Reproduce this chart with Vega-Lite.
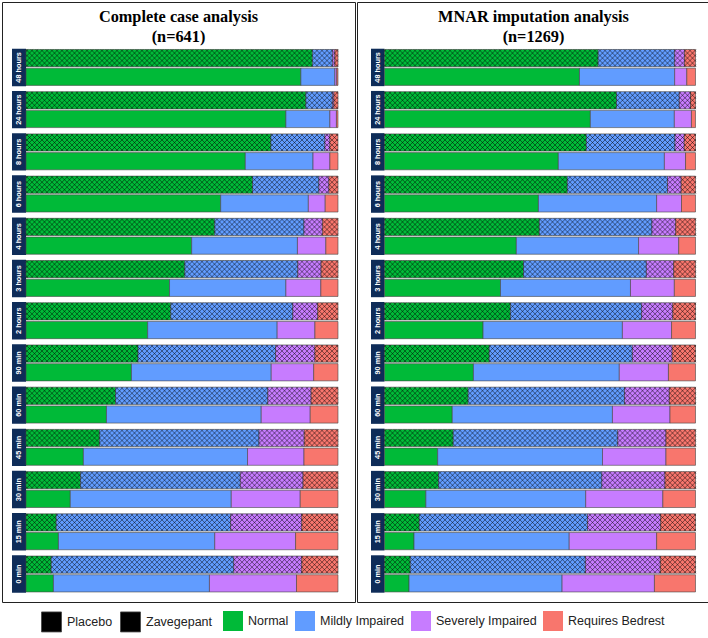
{
  "$schema": "https://vega.github.io/schema/vega-lite/v6.json",
  "padding": {"left": 1, "top": 1, "right": 1, "bottom": 1},
  "config": {
    "view": {"stroke": "#222", "strokeWidth": 1},
    "font": "Liberation Sans"
  },
  "datasets": {
    "cc": [
      {"t": "48 hours", "arm": "Zavegepant", "Normal": 91.8, "Mildly Impaired": 6.4, "Severely Impaired": 0.8, "Requires Bedrest": 1.0},
      {"t": "48 hours", "arm": "Placebo", "Normal": 88.1, "Mildly Impaired": 10.9, "Severely Impaired": 0.6, "Requires Bedrest": 0.4},
      {"t": "24 hours", "arm": "Zavegepant", "Normal": 89.7, "Mildly Impaired": 8.5, "Severely Impaired": 0.5, "Requires Bedrest": 1.3},
      {"t": "24 hours", "arm": "Placebo", "Normal": 83.3, "Mildly Impaired": 14.1, "Severely Impaired": 2.1, "Requires Bedrest": 0.5},
      {"t": "8 hours", "arm": "Zavegepant", "Normal": 78.5, "Mildly Impaired": 17.3, "Severely Impaired": 1.6, "Requires Bedrest": 2.6},
      {"t": "8 hours", "arm": "Placebo", "Normal": 70.3, "Mildly Impaired": 21.7, "Severely Impaired": 5.4, "Requires Bedrest": 2.6},
      {"t": "6 hours", "arm": "Zavegepant", "Normal": 72.6, "Mildly Impaired": 21.3, "Severely Impaired": 3.2, "Requires Bedrest": 2.9},
      {"t": "6 hours", "arm": "Placebo", "Normal": 62.4, "Mildly Impaired": 28.1, "Severely Impaired": 5.4, "Requires Bedrest": 4.1},
      {"t": "4 hours", "arm": "Zavegepant", "Normal": 60.5, "Mildly Impaired": 28.6, "Severely Impaired": 5.9, "Requires Bedrest": 5.0},
      {"t": "4 hours", "arm": "Placebo", "Normal": 53.1, "Mildly Impaired": 33.9, "Severely Impaired": 9.1, "Requires Bedrest": 3.9},
      {"t": "3 hours", "arm": "Zavegepant", "Normal": 50.9, "Mildly Impaired": 36.2, "Severely Impaired": 7.5, "Requires Bedrest": 5.4},
      {"t": "3 hours", "arm": "Placebo", "Normal": 46.0, "Mildly Impaired": 37.3, "Severely Impaired": 11.2, "Requires Bedrest": 5.5},
      {"t": "2 hours", "arm": "Zavegepant", "Normal": 46.4, "Mildly Impaired": 39.1, "Severely Impaired": 8.0, "Requires Bedrest": 6.5},
      {"t": "2 hours", "arm": "Placebo", "Normal": 39.0, "Mildly Impaired": 41.5, "Severely Impaired": 12.1, "Requires Bedrest": 7.4},
      {"t": "90 min", "arm": "Zavegepant", "Normal": 35.9, "Mildly Impaired": 44.1, "Severely Impaired": 12.6, "Requires Bedrest": 7.4},
      {"t": "90 min", "arm": "Placebo", "Normal": 33.8, "Mildly Impaired": 44.8, "Severely Impaired": 13.6, "Requires Bedrest": 7.8},
      {"t": "60 min", "arm": "Zavegepant", "Normal": 28.7, "Mildly Impaired": 48.8, "Severely Impaired": 13.9, "Requires Bedrest": 8.6},
      {"t": "60 min", "arm": "Placebo", "Normal": 25.8, "Mildly Impaired": 49.6, "Severely Impaired": 15.7, "Requires Bedrest": 8.9},
      {"t": "45 min", "arm": "Zavegepant", "Normal": 23.6, "Mildly Impaired": 51.1, "Severely Impaired": 14.5, "Requires Bedrest": 10.8},
      {"t": "45 min", "arm": "Placebo", "Normal": 18.4, "Mildly Impaired": 52.6, "Severely Impaired": 18.1, "Requires Bedrest": 10.9},
      {"t": "30 min", "arm": "Zavegepant", "Normal": 17.5, "Mildly Impaired": 51.2, "Severely Impaired": 20.1, "Requires Bedrest": 11.2},
      {"t": "30 min", "arm": "Placebo", "Normal": 14.2, "Mildly Impaired": 51.6, "Severely Impaired": 22.1, "Requires Bedrest": 12.1},
      {"t": "15 min", "arm": "Zavegepant", "Normal": 9.7, "Mildly Impaired": 55.9, "Severely Impaired": 22.8, "Requires Bedrest": 11.6},
      {"t": "15 min", "arm": "Placebo", "Normal": 10.4, "Mildly Impaired": 50.1, "Severely Impaired": 25.9, "Requires Bedrest": 13.6},
      {"t": "0 min", "arm": "Zavegepant", "Normal": 8.1, "Mildly Impaired": 58.5, "Severely Impaired": 21.8, "Requires Bedrest": 11.6},
      {"t": "0 min", "arm": "Placebo", "Normal": 8.8, "Mildly Impaired": 50.0, "Severely Impaired": 27.9, "Requires Bedrest": 13.3}
    ],
    "mnar": [
      {"t": "48 hours", "arm": "Zavegepant", "Normal": 68.7, "Mildly Impaired": 24.6, "Severely Impaired": 3.2, "Requires Bedrest": 3.5},
      {"t": "48 hours", "arm": "Placebo", "Normal": 62.7, "Mildly Impaired": 30.6, "Severely Impaired": 3.9, "Requires Bedrest": 2.8},
      {"t": "24 hours", "arm": "Zavegepant", "Normal": 74.6, "Mildly Impaired": 20.2, "Severely Impaired": 3.6, "Requires Bedrest": 1.6},
      {"t": "24 hours", "arm": "Placebo", "Normal": 66.2, "Mildly Impaired": 27.0, "Severely Impaired": 5.5, "Requires Bedrest": 1.3},
      {"t": "8 hours", "arm": "Zavegepant", "Normal": 64.9, "Mildly Impaired": 28.5, "Severely Impaired": 3.0, "Requires Bedrest": 3.6},
      {"t": "8 hours", "arm": "Placebo", "Normal": 55.9, "Mildly Impaired": 34.1, "Severely Impaired": 6.8, "Requires Bedrest": 3.2},
      {"t": "6 hours", "arm": "Zavegepant", "Normal": 58.8, "Mildly Impaired": 32.2, "Severely Impaired": 4.4, "Requires Bedrest": 4.6},
      {"t": "6 hours", "arm": "Placebo", "Normal": 49.5, "Mildly Impaired": 38.0, "Severely Impaired": 8.0, "Requires Bedrest": 4.5},
      {"t": "4 hours", "arm": "Zavegepant", "Normal": 49.8, "Mildly Impaired": 36.2, "Severely Impaired": 7.6, "Requires Bedrest": 6.4},
      {"t": "4 hours", "arm": "Placebo", "Normal": 42.4, "Mildly Impaired": 39.3, "Severely Impaired": 12.9, "Requires Bedrest": 5.4},
      {"t": "3 hours", "arm": "Zavegepant", "Normal": 44.7, "Mildly Impaired": 39.5, "Severely Impaired": 8.8, "Requires Bedrest": 7.0},
      {"t": "3 hours", "arm": "Placebo", "Normal": 37.3, "Mildly Impaired": 41.8, "Severely Impaired": 14.1, "Requires Bedrest": 6.8},
      {"t": "2 hours", "arm": "Zavegepant", "Normal": 40.5, "Mildly Impaired": 42.2, "Severely Impaired": 10.0, "Requires Bedrest": 7.3},
      {"t": "2 hours", "arm": "Placebo", "Normal": 31.7, "Mildly Impaired": 44.8, "Severely Impaired": 15.8, "Requires Bedrest": 7.7},
      {"t": "90 min", "arm": "Zavegepant", "Normal": 33.7, "Mildly Impaired": 46.0, "Severely Impaired": 12.8, "Requires Bedrest": 7.5},
      {"t": "90 min", "arm": "Placebo", "Normal": 28.6, "Mildly Impaired": 46.9, "Severely Impaired": 15.8, "Requires Bedrest": 8.7},
      {"t": "60 min", "arm": "Zavegepant", "Normal": 26.9, "Mildly Impaired": 50.3, "Severely Impaired": 14.4, "Requires Bedrest": 8.4},
      {"t": "60 min", "arm": "Placebo", "Normal": 21.8, "Mildly Impaired": 51.5, "Severely Impaired": 18.5, "Requires Bedrest": 8.2},
      {"t": "45 min", "arm": "Zavegepant", "Normal": 22.1, "Mildly Impaired": 52.9, "Severely Impaired": 15.5, "Requires Bedrest": 9.5},
      {"t": "45 min", "arm": "Placebo", "Normal": 17.1, "Mildly Impaired": 53.0, "Severely Impaired": 20.4, "Requires Bedrest": 9.5},
      {"t": "30 min", "arm": "Zavegepant", "Normal": 17.4, "Mildly Impaired": 52.5, "Severely Impaired": 20.3, "Requires Bedrest": 9.8},
      {"t": "30 min", "arm": "Placebo", "Normal": 13.3, "Mildly Impaired": 51.4, "Severely Impaired": 24.8, "Requires Bedrest": 10.5},
      {"t": "15 min", "arm": "Zavegepant", "Normal": 11.2, "Mildly Impaired": 54.1, "Severely Impaired": 23.5, "Requires Bedrest": 11.2},
      {"t": "15 min", "arm": "Placebo", "Normal": 9.5, "Mildly Impaired": 49.9, "Severely Impaired": 28.1, "Requires Bedrest": 12.5},
      {"t": "0 min", "arm": "Zavegepant", "Normal": 8.3, "Mildly Impaired": 56.3, "Severely Impaired": 24.1, "Requires Bedrest": 11.3},
      {"t": "0 min", "arm": "Placebo", "Normal": 7.9, "Mildly Impaired": 49.2, "Severely Impaired": 29.7, "Requires Bedrest": 13.2}
    ]
  },
  "spacing": 0,
  "hconcat": [
    {
      "width": 353,
      "height": 600,
      "data": {"name": "cc"},
      "title": {"text": ["Complete case analysis", "(n=641)"], "font": "Liberation Serif", "fontSize": 16.3, "fontWeight": "bold", "lineHeight": 19.5, "color": "#000", "offset": -43},
      "encoding": {
        "y": {"field": "t", "type": "ordinal", "axis": null, "scale": {"domain": ["48 hours", "24 hours", "8 hours", "6 hours", "4 hours", "3 hours", "2 hours", "90 min", "60 min", "45 min", "30 min", "15 min", "0 min"], "paddingInner": 0.1137, "paddingOuter": 0.6635, "align": 0.834}}
      },
      "layer": [
        {
          "transform": [{"filter": {"field": "arm", "equal": "Zavegepant"}}],
          "mark": {"type": "rect", "color": "#0e2c58"},
          "encoding": {
            "x": {"datum": -0.04487, "type": "quantitative", "axis": null, "scale": {"domain": [-0.07692, 1.05449], "nice": false, "zero": false}},
            "x2": {"datum": 0}
          }
        },
        {
          "transform": [{"filter": {"field": "arm", "equal": "Zavegepant"}}],
          "mark": {"type": "text", "angle": 270, "color": "white", "fontWeight": "bold", "fontSize": 7.3, "font": "Liberation Sans", "align": "center", "baseline": "middle"},
          "encoding": {
            "x": {"datum": -0.0224, "type": "quantitative", "axis": null},
            "text": {"field": "t"}
          }
        },
        {
          "transform": [
            {"filter": {"field": "arm", "equal": "Zavegepant"}},
            {"fold": ["Normal", "Mildly Impaired", "Severely Impaired", "Requires Bedrest"], "as": ["category", "pct"]},
            {"calculate": "indexof(['Normal','Mildly Impaired','Severely Impaired','Requires Bedrest'], datum.category)", "as": "k"}
          ],
          "mark": {"type": "bar", "height": {"band": 0.46}, "yOffset": -9.35, "strokeWidth": 0.8, "strokeOpacity": 0.75},
          "encoding": {
            "x": {"field": "pct", "type": "quantitative", "stack": "normalize", "axis": null, "scale": {"domain": [-0.07692, 1.05449], "nice": false, "zero": false}},
            "order": {"field": "k", "type": "quantitative"},
            "color": {
              "field": "category", "type": "nominal",
              "scale": {"domain": ["Normal", "Mildly Impaired", "Severely Impaired", "Requires Bedrest"], "range": ["#00BA38", "#619CFF", "#C77CFF", "#F8766D"]},
              "legend": {"title": null, "orient": "none", "legendX": 221, "legendY": 609, "direction": "horizontal", "symbolType": "square", "symbolSize": 400, "symbolStrokeWidth": 0, "labelFontSize": 12.5, "labelFont": "Liberation Sans", "labelColor": "#222", "columnPadding": 6, "labelOffset": 5, "labelLimit": 300}
            },
            "stroke": {
              "field": "arm", "type": "nominal",
              "scale": {"domain": ["Placebo", "Zavegepant"], "range": ["#444", "#444"]},
              "legend": {"title": null, "orient": "none", "legendX": 39, "legendY": 609, "direction": "horizontal", "symbolType": "square", "symbolSize": 400, "labelFontSize": 12.5, "labelFont": "Liberation Sans", "labelColor": "#222", "columnPadding": 5, "labelOffset": 5, "labelLimit": 300, "symbolFillColor": "white", "symbolStrokeColor": "#777", "symbolStrokeWidth": 0.8}
            }
          }
        },
        {
          "transform": [
            {"filter": {"field": "arm", "equal": "Placebo"}},
            {"fold": ["Normal", "Mildly Impaired", "Severely Impaired", "Requires Bedrest"], "as": ["category", "pct"]},
            {"calculate": "indexof(['Normal','Mildly Impaired','Severely Impaired','Requires Bedrest'], datum.category)", "as": "k"}
          ],
          "mark": {"type": "bar", "height": {"band": 0.46}, "yOffset": 9.35, "strokeWidth": 0.8, "strokeOpacity": 0.75},
          "encoding": {
            "x": {"field": "pct", "type": "quantitative", "stack": "normalize", "axis": null, "scale": {"domain": [-0.07692, 1.05449], "nice": false, "zero": false}},
            "order": {"field": "k", "type": "quantitative"},
            "color": {"field": "category", "type": "nominal"},
            "stroke": {"field": "arm", "type": "nominal"}
          }
        },
        {
          "transform": [{"filter": {"field": "arm", "equal": "Zavegepant"}}],
          "mark": {"type": "point", "size": 4, "yOffset": -9.35, "filled": false, "stroke": "#000", "strokeWidth": 0.8, "strokeOpacity": 0.6, "opacity": 1,
            "shape": "M-156,-6.5L-153.9,-8.6M-156,-1.5L-148.9,-8.6M-156,3.5L-143.9,-8.6M-156.1,8.6l17.2,-17.2M-151.1,8.6l17.2,-17.2M-146.1,8.6l17.2,-17.2M-141.1,8.6l17.2,-17.2M-136.1,8.6l17.2,-17.2M-131.1,8.6l17.2,-17.2M-126.1,8.6l17.2,-17.2M-121.1,8.6l17.2,-17.2M-116.1,8.6l17.2,-17.2M-111.1,8.6l17.2,-17.2M-106.1,8.6l17.2,-17.2M-101.1,8.6l17.2,-17.2M-96.1,8.6l17.2,-17.2M-91.1,8.6l17.2,-17.2M-86.1,8.6l17.2,-17.2M-81.1,8.6l17.2,-17.2M-76.1,8.6l17.2,-17.2M-71.1,8.6l17.2,-17.2M-66.1,8.6l17.2,-17.2M-61.1,8.6l17.2,-17.2M-56.1,8.6l17.2,-17.2M-51.1,8.6l17.2,-17.2M-46.1,8.6l17.2,-17.2M-41.1,8.6l17.2,-17.2M-36.1,8.6l17.2,-17.2M-31.1,8.6l17.2,-17.2M-26.1,8.6l17.2,-17.2M-21.1,8.6l17.2,-17.2M-16.1,8.6l17.2,-17.2M-11.1,8.6l17.2,-17.2M-6.1,8.6l17.2,-17.2M-1.1,8.6l17.2,-17.2M3.9,8.6l17.2,-17.2M8.9,8.6l17.2,-17.2M13.9,8.6l17.2,-17.2M18.9,8.6l17.2,-17.2M23.9,8.6l17.2,-17.2M28.9,8.6l17.2,-17.2M33.9,8.6l17.2,-17.2M38.9,8.6l17.2,-17.2M43.9,8.6l17.2,-17.2M48.9,8.6l17.2,-17.2M53.9,8.6l17.2,-17.2M58.9,8.6l17.2,-17.2M63.9,8.6l17.2,-17.2M68.9,8.6l17.2,-17.2M73.9,8.6l17.2,-17.2M78.9,8.6l17.2,-17.2M83.9,8.6l17.2,-17.2M88.9,8.6l17.2,-17.2M93.9,8.6l17.2,-17.2M98.9,8.6l17.2,-17.2M103.9,8.6l17.2,-17.2M108.9,8.6l17.2,-17.2M113.9,8.6l17.2,-17.2M118.9,8.6l17.2,-17.2M123.9,8.6l17.2,-17.2M128.9,8.6l17.2,-17.2M133.9,8.6l17.2,-17.2M138.9,8.6l17.2,-17.2M143.9,8.6L156,-3.5M148.9,8.6L156,1.5M153.9,8.6L156,6.5M-156,6.5L-153.9,8.6M-156,1.5L-148.9,8.6M-156,-3.5L-143.9,8.6M-156.1,-8.6l17.2,17.2M-151.1,-8.6l17.2,17.2M-146.1,-8.6l17.2,17.2M-141.1,-8.6l17.2,17.2M-136.1,-8.6l17.2,17.2M-131.1,-8.6l17.2,17.2M-126.1,-8.6l17.2,17.2M-121.1,-8.6l17.2,17.2M-116.1,-8.6l17.2,17.2M-111.1,-8.6l17.2,17.2M-106.1,-8.6l17.2,17.2M-101.1,-8.6l17.2,17.2M-96.1,-8.6l17.2,17.2M-91.1,-8.6l17.2,17.2M-86.1,-8.6l17.2,17.2M-81.1,-8.6l17.2,17.2M-76.1,-8.6l17.2,17.2M-71.1,-8.6l17.2,17.2M-66.1,-8.6l17.2,17.2M-61.1,-8.6l17.2,17.2M-56.1,-8.6l17.2,17.2M-51.1,-8.6l17.2,17.2M-46.1,-8.6l17.2,17.2M-41.1,-8.6l17.2,17.2M-36.1,-8.6l17.2,17.2M-31.1,-8.6l17.2,17.2M-26.1,-8.6l17.2,17.2M-21.1,-8.6l17.2,17.2M-16.1,-8.6l17.2,17.2M-11.1,-8.6l17.2,17.2M-6.1,-8.6l17.2,17.2M-1.1,-8.6l17.2,17.2M3.9,-8.6l17.2,17.2M8.9,-8.6l17.2,17.2M13.9,-8.6l17.2,17.2M18.9,-8.6l17.2,17.2M23.9,-8.6l17.2,17.2M28.9,-8.6l17.2,17.2M33.9,-8.6l17.2,17.2M38.9,-8.6l17.2,17.2M43.9,-8.6l17.2,17.2M48.9,-8.6l17.2,17.2M53.9,-8.6l17.2,17.2M58.9,-8.6l17.2,17.2M63.9,-8.6l17.2,17.2M68.9,-8.6l17.2,17.2M73.9,-8.6l17.2,17.2M78.9,-8.6l17.2,17.2M83.9,-8.6l17.2,17.2M88.9,-8.6l17.2,17.2M93.9,-8.6l17.2,17.2M98.9,-8.6l17.2,17.2M103.9,-8.6l17.2,17.2M108.9,-8.6l17.2,17.2M113.9,-8.6l17.2,17.2M118.9,-8.6l17.2,17.2M123.9,-8.6l17.2,17.2M128.9,-8.6l17.2,17.2M133.9,-8.6l17.2,17.2M138.9,-8.6l17.2,17.2M143.9,-8.6L156,3.5M148.9,-8.6L156,-1.5M153.9,-8.6L156,-6.5"},
          "encoding": {
            "x": {"datum": 0.5, "type": "quantitative", "axis": null}
          }
        }
      ]
    },
    {
      "width": 353,
      "height": 600,
      "data": {"name": "mnar"},
      "title": {"text": ["MNAR imputation analysis", "(n=1269)"], "font": "Liberation Serif", "fontSize": 16.3, "fontWeight": "bold", "lineHeight": 19.5, "color": "#000", "offset": -43},
      "encoding": {
        "y": {"field": "t", "type": "ordinal", "axis": null, "scale": {"domain": ["48 hours", "24 hours", "8 hours", "6 hours", "4 hours", "3 hours", "2 hours", "90 min", "60 min", "45 min", "30 min", "15 min", "0 min"], "paddingInner": 0.1137, "paddingOuter": 0.6635, "align": 0.834}}
      },
      "layer": [
        {
          "transform": [{"filter": {"field": "arm", "equal": "Zavegepant"}}],
          "mark": {"type": "rect", "color": "#0e2c58"},
          "encoding": {
            "x": {"datum": -0.04341, "type": "quantitative", "axis": null, "scale": {"domain": [-0.08842, 1.04663], "nice": false, "zero": false}},
            "x2": {"datum": 0}
          }
        },
        {
          "transform": [{"filter": {"field": "arm", "equal": "Zavegepant"}}],
          "mark": {"type": "text", "angle": 270, "color": "white", "fontWeight": "bold", "fontSize": 7.3, "font": "Liberation Sans", "align": "center", "baseline": "middle"},
          "encoding": {
            "x": {"datum": -0.0217, "type": "quantitative", "axis": null},
            "text": {"field": "t"}
          }
        },
        {
          "transform": [
            {"filter": {"field": "arm", "equal": "Zavegepant"}},
            {"fold": ["Normal", "Mildly Impaired", "Severely Impaired", "Requires Bedrest"], "as": ["category", "pct"]},
            {"calculate": "indexof(['Normal','Mildly Impaired','Severely Impaired','Requires Bedrest'], datum.category)", "as": "k"}
          ],
          "mark": {"type": "bar", "height": {"band": 0.46}, "yOffset": -9.35, "strokeWidth": 0.8, "strokeOpacity": 0.75},
          "encoding": {
            "x": {"field": "pct", "type": "quantitative", "stack": "normalize", "axis": null, "scale": {"domain": [-0.08842, 1.04663], "nice": false, "zero": false}},
            "order": {"field": "k", "type": "quantitative"},
            "color": {
              "field": "category", "type": "nominal",
              "scale": {"domain": ["Normal", "Mildly Impaired", "Severely Impaired", "Requires Bedrest"], "range": ["#00BA38", "#619CFF", "#C77CFF", "#F8766D"]},
              "legend": {"title": null, "orient": "none", "legendX": 221, "legendY": 609, "direction": "horizontal", "symbolType": "square", "symbolSize": 400, "symbolStrokeWidth": 0, "labelFontSize": 12.5, "labelFont": "Liberation Sans", "labelColor": "#222", "columnPadding": 6, "labelOffset": 5, "labelLimit": 300}
            },
            "stroke": {
              "field": "arm", "type": "nominal",
              "scale": {"domain": ["Placebo", "Zavegepant"], "range": ["#444", "#444"]},
              "legend": {"title": null, "orient": "none", "legendX": 39, "legendY": 609, "direction": "horizontal", "symbolType": "square", "symbolSize": 400, "labelFontSize": 12.5, "labelFont": "Liberation Sans", "labelColor": "#222", "columnPadding": 5, "labelOffset": 5, "labelLimit": 300, "symbolFillColor": "white", "symbolStrokeColor": "#777", "symbolStrokeWidth": 0.8}
            }
          }
        },
        {
          "transform": [
            {"filter": {"field": "arm", "equal": "Placebo"}},
            {"fold": ["Normal", "Mildly Impaired", "Severely Impaired", "Requires Bedrest"], "as": ["category", "pct"]},
            {"calculate": "indexof(['Normal','Mildly Impaired','Severely Impaired','Requires Bedrest'], datum.category)", "as": "k"}
          ],
          "mark": {"type": "bar", "height": {"band": 0.46}, "yOffset": 9.35, "strokeWidth": 0.8, "strokeOpacity": 0.75},
          "encoding": {
            "x": {"field": "pct", "type": "quantitative", "stack": "normalize", "axis": null, "scale": {"domain": [-0.08842, 1.04663], "nice": false, "zero": false}},
            "order": {"field": "k", "type": "quantitative"},
            "color": {"field": "category", "type": "nominal"},
            "stroke": {"field": "arm", "type": "nominal"}
          }
        },
        {
          "transform": [{"filter": {"field": "arm", "equal": "Zavegepant"}}],
          "mark": {"type": "point", "size": 4, "yOffset": -9.35, "filled": false, "stroke": "#000", "strokeWidth": 0.8, "strokeOpacity": 0.6, "opacity": 1,
            "shape": "M-156,-6.5L-153.9,-8.6M-156,-1.5L-148.9,-8.6M-156,3.5L-143.9,-8.6M-156.1,8.6l17.2,-17.2M-151.1,8.6l17.2,-17.2M-146.1,8.6l17.2,-17.2M-141.1,8.6l17.2,-17.2M-136.1,8.6l17.2,-17.2M-131.1,8.6l17.2,-17.2M-126.1,8.6l17.2,-17.2M-121.1,8.6l17.2,-17.2M-116.1,8.6l17.2,-17.2M-111.1,8.6l17.2,-17.2M-106.1,8.6l17.2,-17.2M-101.1,8.6l17.2,-17.2M-96.1,8.6l17.2,-17.2M-91.1,8.6l17.2,-17.2M-86.1,8.6l17.2,-17.2M-81.1,8.6l17.2,-17.2M-76.1,8.6l17.2,-17.2M-71.1,8.6l17.2,-17.2M-66.1,8.6l17.2,-17.2M-61.1,8.6l17.2,-17.2M-56.1,8.6l17.2,-17.2M-51.1,8.6l17.2,-17.2M-46.1,8.6l17.2,-17.2M-41.1,8.6l17.2,-17.2M-36.1,8.6l17.2,-17.2M-31.1,8.6l17.2,-17.2M-26.1,8.6l17.2,-17.2M-21.1,8.6l17.2,-17.2M-16.1,8.6l17.2,-17.2M-11.1,8.6l17.2,-17.2M-6.1,8.6l17.2,-17.2M-1.1,8.6l17.2,-17.2M3.9,8.6l17.2,-17.2M8.9,8.6l17.2,-17.2M13.9,8.6l17.2,-17.2M18.9,8.6l17.2,-17.2M23.9,8.6l17.2,-17.2M28.9,8.6l17.2,-17.2M33.9,8.6l17.2,-17.2M38.9,8.6l17.2,-17.2M43.9,8.6l17.2,-17.2M48.9,8.6l17.2,-17.2M53.9,8.6l17.2,-17.2M58.9,8.6l17.2,-17.2M63.9,8.6l17.2,-17.2M68.9,8.6l17.2,-17.2M73.9,8.6l17.2,-17.2M78.9,8.6l17.2,-17.2M83.9,8.6l17.2,-17.2M88.9,8.6l17.2,-17.2M93.9,8.6l17.2,-17.2M98.9,8.6l17.2,-17.2M103.9,8.6l17.2,-17.2M108.9,8.6l17.2,-17.2M113.9,8.6l17.2,-17.2M118.9,8.6l17.2,-17.2M123.9,8.6l17.2,-17.2M128.9,8.6l17.2,-17.2M133.9,8.6l17.2,-17.2M138.9,8.6l17.2,-17.2M143.9,8.6L156,-3.5M148.9,8.6L156,1.5M153.9,8.6L156,6.5M-156,6.5L-153.9,8.6M-156,1.5L-148.9,8.6M-156,-3.5L-143.9,8.6M-156.1,-8.6l17.2,17.2M-151.1,-8.6l17.2,17.2M-146.1,-8.6l17.2,17.2M-141.1,-8.6l17.2,17.2M-136.1,-8.6l17.2,17.2M-131.1,-8.6l17.2,17.2M-126.1,-8.6l17.2,17.2M-121.1,-8.6l17.2,17.2M-116.1,-8.6l17.2,17.2M-111.1,-8.6l17.2,17.2M-106.1,-8.6l17.2,17.2M-101.1,-8.6l17.2,17.2M-96.1,-8.6l17.2,17.2M-91.1,-8.6l17.2,17.2M-86.1,-8.6l17.2,17.2M-81.1,-8.6l17.2,17.2M-76.1,-8.6l17.2,17.2M-71.1,-8.6l17.2,17.2M-66.1,-8.6l17.2,17.2M-61.1,-8.6l17.2,17.2M-56.1,-8.6l17.2,17.2M-51.1,-8.6l17.2,17.2M-46.1,-8.6l17.2,17.2M-41.1,-8.6l17.2,17.2M-36.1,-8.6l17.2,17.2M-31.1,-8.6l17.2,17.2M-26.1,-8.6l17.2,17.2M-21.1,-8.6l17.2,17.2M-16.1,-8.6l17.2,17.2M-11.1,-8.6l17.2,17.2M-6.1,-8.6l17.2,17.2M-1.1,-8.6l17.2,17.2M3.9,-8.6l17.2,17.2M8.9,-8.6l17.2,17.2M13.9,-8.6l17.2,17.2M18.9,-8.6l17.2,17.2M23.9,-8.6l17.2,17.2M28.9,-8.6l17.2,17.2M33.9,-8.6l17.2,17.2M38.9,-8.6l17.2,17.2M43.9,-8.6l17.2,17.2M48.9,-8.6l17.2,17.2M53.9,-8.6l17.2,17.2M58.9,-8.6l17.2,17.2M63.9,-8.6l17.2,17.2M68.9,-8.6l17.2,17.2M73.9,-8.6l17.2,17.2M78.9,-8.6l17.2,17.2M83.9,-8.6l17.2,17.2M88.9,-8.6l17.2,17.2M93.9,-8.6l17.2,17.2M98.9,-8.6l17.2,17.2M103.9,-8.6l17.2,17.2M108.9,-8.6l17.2,17.2M113.9,-8.6l17.2,17.2M118.9,-8.6l17.2,17.2M123.9,-8.6l17.2,17.2M128.9,-8.6l17.2,17.2M133.9,-8.6l17.2,17.2M138.9,-8.6l17.2,17.2M143.9,-8.6L156,3.5M148.9,-8.6L156,-1.5M153.9,-8.6L156,-6.5"},
          "encoding": {
            "x": {"datum": 0.5, "type": "quantitative", "axis": null}
          }
        }
      ]
    }
  ]
}
